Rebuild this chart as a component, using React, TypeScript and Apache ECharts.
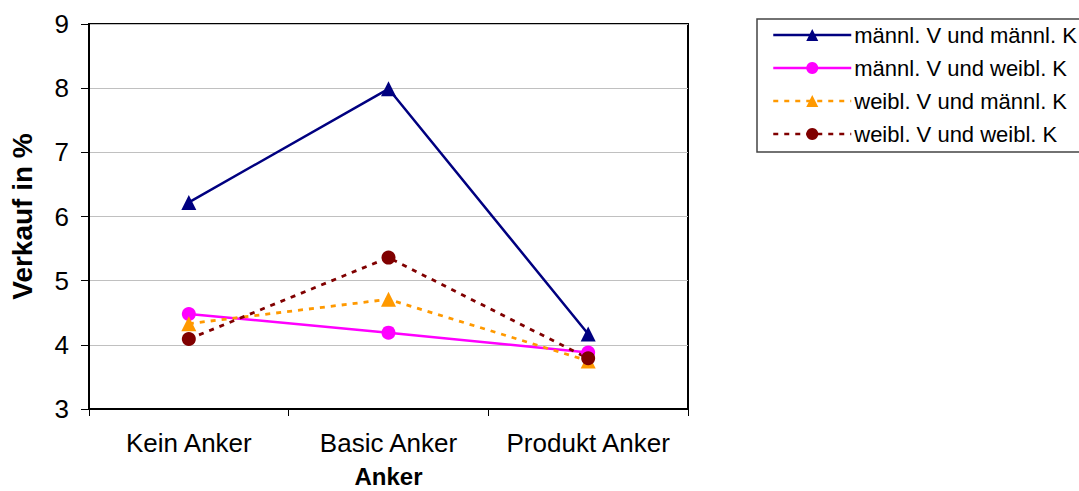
import React, { useEffect, useRef } from "react";
import * as echarts from "echarts";

// Categories on the x axis
const categories = ["Kein Anker", "Basic Anker", "Produkt Anker"];

// Sales share (%) per combination of seller / customer gender
const seriesNames = [
  "männl. V und männl. K",
  "männl. V und weibl. K",
  "weibl. V und männl. K",
  "weibl. V und weibl. K",
];
const maleMale = [6.22, 7.99, 4.17];
const maleFemale = [4.48, 4.19, 3.88];
const femaleMale = [4.33, 4.71, 3.75];
const femaleFemale = [4.09, 5.36, 3.79];

const yTicks = [3, 4, 5, 6, 7, 8, 9];

const FONT = "'Liberation Sans', Arial, sans-serif";

export default function App() {
  const ref = useRef<HTMLDivElement>(null);

  useEffect(() => {
    if (!ref.current) return;
    const chart = echarts.init(ref.current, undefined, { renderer: "svg" });

    const mk = (
      name: string,
      data: number[],
      color: string,
      symbol: string,
      size: number,
      dashed: boolean
    ) => ({
      name,
      type: "line",
      data,
      symbol,
      symbolSize: size,
      showAllSymbol: true,
      itemStyle: { color },
      lineStyle: {
        color,
        width: dashed ? 2.8 : 2.5,
        type: dashed ? [5, 6] : "solid",
      },
      z: 3,
    });

    chart.setOption({
      animation: false,
      backgroundColor: "#ffffff",
      textStyle: { fontFamily: FONT },
      grid: {
        left: 89,
        right: 391,
        top: 24,
        bottom: 82,
        outerBoundsMode: "none",
        containLabel: false,
        show: true,
        borderColor: "#000000",
        borderWidth: 2,
      },
      legend: {
        orient: "vertical",
        left: 772,
        top: 24,
        itemWidth: 78,
        itemHeight: 15,
        itemGap: 11,
        padding: 0,
        lineStyle: { width: 2.5 },
        textStyle: { fontFamily: FONT, fontSize: 22, color: "#000", padding: [0, 0, 0, -2] },
        data: seriesNames,
      },
      graphic: [
        {
          type: "rect",
          shape: { x: 757, y: 19, width: 400, height: 133 },
          style: { fill: "none", stroke: "#444", lineWidth: 1.5 },
          silent: true,
        },
      ],
      xAxis: {
        type: "category",
        data: categories,
        boundaryGap: true,
        name: "Anker",
        nameLocation: "middle",
        nameGap: 55,
        nameTextStyle: { fontFamily: FONT, fontSize: 24, fontWeight: "bold", color: "#000" },
        axisLine: { lineStyle: { color: "#000", width: 2 } },
        axisTick: { show: true, alignWithLabel: false, length: 7, lineStyle: { color: "#000", width: 1 } },
        axisLabel: { fontFamily: FONT, fontSize: 26, color: "#000", margin: 21, interval: 0 },
        splitLine: { show: false },
      },
      yAxis: {
        type: "value",
        min: yTicks[0],
        max: yTicks[yTicks.length - 1],
        interval: 1,
        name: "Verkauf in %",
        nameLocation: "middle",
        nameRotate: 90,
        nameGap: 53,
        nameTextStyle: { fontFamily: FONT, fontSize: 28, fontWeight: "bold", color: "#000" },
        axisLine: { show: true, lineStyle: { color: "#000", width: 2 } },
        axisTick: { show: true, length: 8, lineStyle: { color: "#000", width: 1 } },
        axisLabel: { fontFamily: FONT, fontSize: 26, color: "#000", margin: 20 },
        splitLine: { show: true, lineStyle: { color: "#c0c0c0", width: 1 } },
      },
      series: [
        mk(seriesNames[0], maleMale, "#000080", "triangle", 15, false),
        mk(seriesNames[1], maleFemale, "#ff00ff", "circle", 14, false),
        mk(seriesNames[2], femaleMale, "#ff9900", "triangle", 15, true),
        mk(seriesNames[3], femaleFemale, "#800000", "circle", 14, true),
      ],
    });

    return () => chart.dispose();
  }, []);

  return (
    <div
      ref={ref}
      style={{ position: "fixed", left: 0, top: 0, width: 1079, height: 491 }}
    />
  );
}
